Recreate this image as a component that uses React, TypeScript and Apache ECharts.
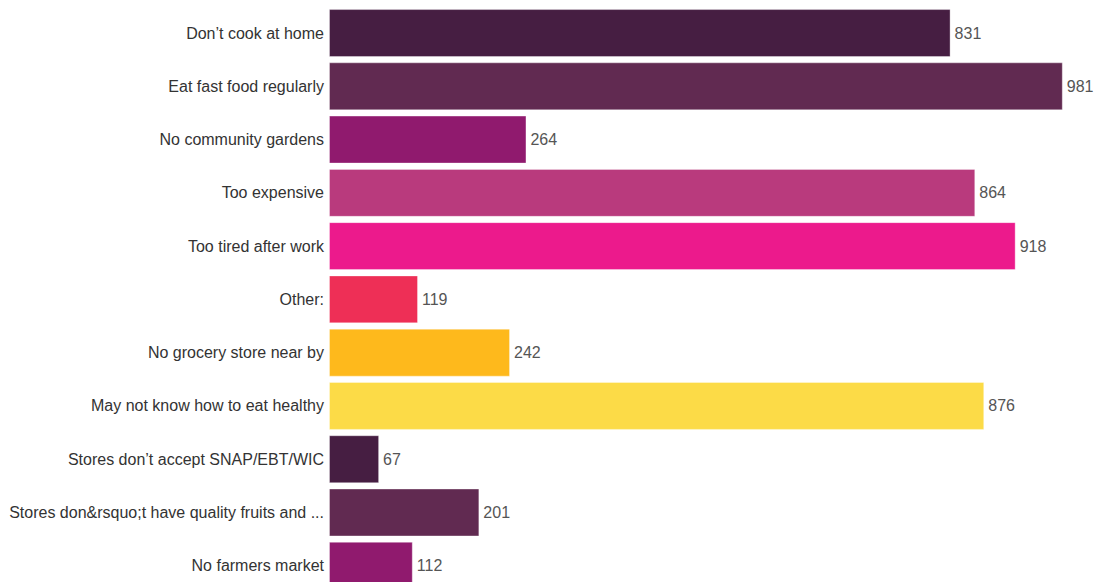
import React, { useEffect, useRef } from "react";
import * as echarts from "echarts";

const categories = [
  "Don’t cook at home",
  "Eat fast food regularly",
  "No community gardens",
  "Too expensive",
  "Too tired after work",
  "Other:",
  "No grocery store near by",
  "May not know how to eat healthy",
  "Stores don’t accept SNAP/EBT/WIC",
  "Stores don&rsquo;t have quality fruits and ...",
  "No farmers market",
];
const values = [831, 981, 264, 864, 918, 119, 242, 876, 67, 201, 112];
const palette = ["#461e42", "#612a51", "#901a6e", "#b93a7d", "#ec1a8c", "#ee2f56", "#feb91c", "#fcdb47"];

export default function App() {
  const ref = useRef<HTMLDivElement>(null);
  useEffect(() => {
    if (!ref.current) return;
    const chart = echarts.init(ref.current, null, { renderer: "svg" });
    chart.setOption({
      animation: false,
      textStyle: { fontFamily: "Liberation Sans, Arial, sans-serif" },
      grid: { left: 329, top: 6.4, width: 748, height: 586, containLabel: false },
      xAxis: {
        type: "value",
        min: 0,
        max: 1000,
        show: false,
        splitLine: { show: false },
      },
      yAxis: {
        type: "category",
        inverse: true,
        data: categories,
        axisLine: { show: false },
        axisTick: { show: false },
        axisLabel: { color: "#333", fontSize: 16, margin: 5, fontFamily: "Liberation Sans, Arial, sans-serif" },
      },
      series: [
        {
          type: "bar",
          data: values.map((v, i) => ({ value: v, itemStyle: { color: palette[i % palette.length] } })),
          barCategoryGap: "10%",
          itemStyle: { borderColor: "rgba(255,255,255,0.35)", borderWidth: 1 },
          label: {
            show: true,
            position: "right",
            distance: 4,
            color: "#555",
            fontSize: 16,
            fontFamily: "Liberation Sans, Arial, sans-serif",
          },
        },
      ],
    });
    return () => chart.dispose();
  }, []);
  return (
    <div
      ref={ref}
      style={{ position: "fixed", left: 0, top: 0, width: 1099, height: 600, background: "#fff" }}
    />
  );
}
